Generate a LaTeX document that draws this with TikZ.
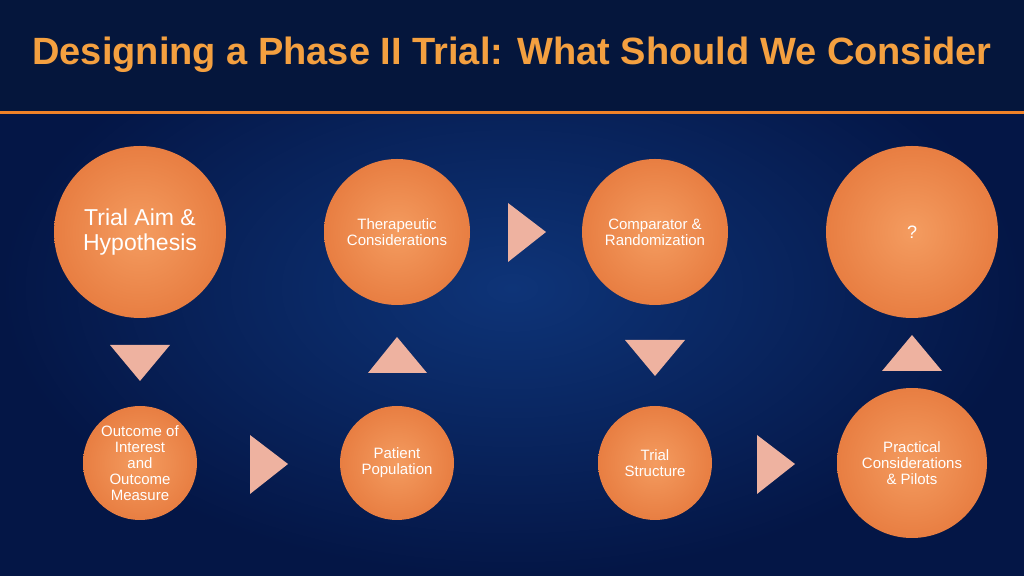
\documentclass[tikz,border=0pt]{standalone}
\usepackage{fontspec}
\setmainfont{Liberation Sans}
\definecolor{bgin}{RGB}{14,52,120}
\definecolor{bgout}{RGB}{4,22,70}
\definecolor{band}{RGB}{5,22,60}
\definecolor{oline}{RGB}{240,130,40}
\definecolor{ttl}{RGB}{244,160,64}
\definecolor{cin}{RGB}{244,156,96}
\definecolor{cout}{RGB}{232,126,66}
\definecolor{trif}{RGB}{238,178,160}
\begin{document}
\begin{tikzpicture}[x=0.5pt,y=-0.5pt,
  circ/.style={circle,draw=none,inner color=cin,outer color=cout,text=white,align=center,font=\fontsize{7.5}{8}\selectfont,inner sep=0pt},
  tri/.style={fill=trif,draw=none}]
\useasboundingbox (0,0) rectangle (1024,576);
\fill[inner color=bgin,outer color=bgout] (0,0) rectangle (1024,576);
\fill[band] (0,0) rectangle (1024,112);
\draw[line width=1.5pt,oline] (0,113) -- (1024,113);
\node[font=\bfseries\fontsize{19}{21}\selectfont,text=ttl] (title) at (512,55) {Designing a Phase II Trial: What Should We Consider};
\node[circ,minimum size=86pt,font=\fontsize{11.5}{12.5}\selectfont] (c1) at (140,232) {Trial Aim \&\\Hypothesis};
\node[circ,minimum size=73pt] (c2) at (397,232) {Therapeutic\\Considerations};
\node[circ,minimum size=73pt] (c3) at (655,232) {Comparator \&\\Randomization};
\node[circ,minimum size=86pt,font=\fontsize{9}{10}\selectfont] (c4) at (912,232) {?};
\node[circ,minimum size=57pt] (c5) at (140,463) {Outcome of\\Interest\\and\\Outcome\\Measure};
\node[circ,minimum size=57pt] (c6) at (397,463) {Patient\\Population};
\node[circ,minimum size=57pt] (c7) at (655,463) {Trial\\Structure};
\node[circ,minimum size=75pt] (c8) at (912,463) {Practical\\Considerations\\\& Pilots};
\fill[tri] (508,203) -- (546,232) -- (508,262) -- cycle;
\fill[tri] (250,435) -- (288,464) -- (250,494) -- cycle;
\fill[tri] (757,435) -- (795,464) -- (757,494) -- cycle;
\fill[tri] (110,345) -- (170,345) -- (140,381) -- cycle;
\fill[tri] (625,340) -- (685,340) -- (655,376) -- cycle;
\fill[tri] (368,373) -- (427,373) -- (397,337) -- cycle;
\fill[tri] (882,371) -- (942,371) -- (912,335) -- cycle;
\end{tikzpicture}
\end{document}
